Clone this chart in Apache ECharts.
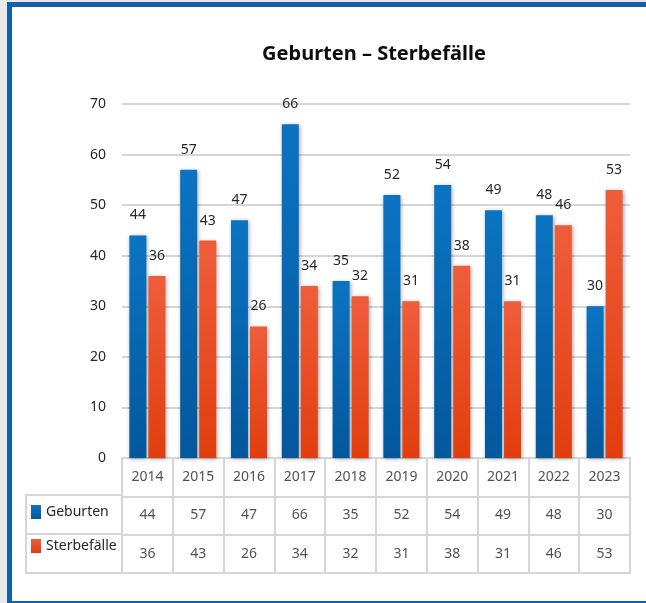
<!DOCTYPE html>
<html>
<head>
<meta charset="utf-8">
<script src="https://cdn.jsdelivr.net/npm/echarts@6/dist/echarts.min.js"></script>
<style>
  body { margin: 0; background: #e9e9e9; }
  #frame {
    position: absolute; left: 7px; top: 2px; width: 639px; height: 601px;
    box-sizing: border-box; background: #fff;
    border-top: 5px solid #1560ad; border-left: 5px solid #1560ad; border-bottom: 2px solid #1560ad;
  }
  #main { position: absolute; left: 0; top: 0; width: 646px; height: 603px; }
</style>
</head>
<body>
<div id="frame"></div>
<div id="main"></div>
<script>
// Daten
var years = ['2014', '2015', '2016', '2017', '2018', '2019', '2020', '2021', '2022', '2023'];
var geburten = [44, 57, 47, 66, 35, 52, 54, 49, 48, 30];
var sterbefaelle = [36, 43, 26, 34, 32, 31, 38, 31, 46, 53];
var tableRows = ['Jahr', 'Geburten', 'Sterbefälle'];
var legendRows = ['Geburten', 'Sterbefälle'];
var yMin = 0, yMax = 70, yStep = 10;

var font = 'Noto Sans';
var txt = '#262626';
var lineCol = '#d6d6d6';

function grad(top, bottom) {
  return new echarts.graphic.LinearGradient(0, 0, 0, 1, [
    { offset: 0, color: top },
    { offset: 1, color: bottom }
  ]);
}
var blue = grad('#0b74c2', '#04579c');
var red = grad('#ee5d3b', '#e13e0e');

// Tabellenzellen
var cells = [];
years.forEach(function (y, i) { cells.push([i, 0, y]); });
geburten.forEach(function (v, i) { cells.push([i, 1, String(v)]); });
sterbefaelle.forEach(function (v, i) { cells.push([i, 2, String(v)]); });

var chart = echarts.init(document.getElementById('main'));
var option = {
  backgroundColor: 'transparent',
  animation: false,
  textStyle: { fontFamily: font },
  title: {
    text: 'Geburten – Sterbefälle',
    left: 369,
    textAlign: 'center',
    top: 39,
    textStyle: { fontFamily: font, fontSize: 20, fontWeight: 'bold', color: '#0d0d0d' }
  },
  legend: {
    data: legendRows,
    orient: 'vertical',
    left: 26,
    top: 500,
    itemWidth: 10,
    itemHeight: 14,
    itemGap: 20,
    icon: 'rect',
    selectedMode: false,
    textStyle: { fontFamily: font, fontSize: 14, color: txt }
  },
  grid: [
    { left: 122, right: 16, top: 104, height: 354, outerBoundsMode: 'none' },
    { left: 122, right: 16, top: 458, height: 115, outerBoundsMode: 'none',
      show: true, borderColor: lineCol, borderWidth: 2 },
    { left: 26, width: 96, top: 495, height: 78, outerBoundsMode: 'none',
      show: true, borderColor: lineCol, borderWidth: 2 }
  ],
  xAxis: [
    { type: 'category', gridIndex: 0, data: years,
      axisLine: { show: false }, axisTick: { show: false }, axisLabel: { show: false } },
    { type: 'category', gridIndex: 1, data: years,
      axisLine: { show: false }, axisTick: { show: false }, axisLabel: { show: false },
      splitLine: { show: true, interval: 0, lineStyle: { color: lineCol, width: 2 } } },
    { type: 'value', gridIndex: 2, show: false }
  ],
  yAxis: [
    { type: 'value', gridIndex: 0, min: yMin, max: yMax, interval: yStep,
      axisLine: { show: false }, axisTick: { show: false },
      axisLabel: { margin: 16, fontSize: 14, color: txt, fontFamily: font },
      splitLine: { lineStyle: { color: lineCol, width: 2 } } },
    { type: 'category', gridIndex: 1, data: tableRows, inverse: true,
      axisLine: { show: false }, axisTick: { show: false }, axisLabel: { show: false },
      splitLine: { show: true, interval: 0, lineStyle: { color: lineCol, width: 2 } } },
    { type: 'category', gridIndex: 2, data: legendRows, inverse: true,
      axisLine: { show: false }, axisTick: { show: false }, axisLabel: { show: false },
      splitLine: { show: true, interval: 0, lineStyle: { color: lineCol, width: 2 } } }
  ],
  series: [
    {
      name: 'Geburten', type: 'bar', xAxisIndex: 0, yAxisIndex: 0,
      data: geburten, barWidth: 17, barGap: '12%',
      itemStyle: { color: blue, shadowBlur: 4, shadowColor: 'rgba(0,0,0,0.35)', shadowOffsetX: 1, shadowOffsetY: 1 },
      label: { show: true, position: 'top', distance: 13, fontSize: 14, color: txt, fontFamily: font }
    },
    {
      name: 'Sterbefälle', type: 'bar', xAxisIndex: 0, yAxisIndex: 0,
      data: sterbefaelle, barWidth: 17,
      itemStyle: { color: red, shadowBlur: 4, shadowColor: 'rgba(0,0,0,0.35)', shadowOffsetX: 1, shadowOffsetY: 1 },
      label: { show: true, position: 'top', distance: 13, fontSize: 14, color: txt, fontFamily: font }
    },
    {
      type: 'scatter', xAxisIndex: 1, yAxisIndex: 1,
      data: cells, symbolSize: 0, silent: true,
      label: {
        show: true, position: 'inside', fontSize: 14, color: txt, fontFamily: font,
        formatter: function (p) { return p.value[2]; }
      }
    }
  ]
};
chart.setOption(option);
</script>
</body>
</html>
